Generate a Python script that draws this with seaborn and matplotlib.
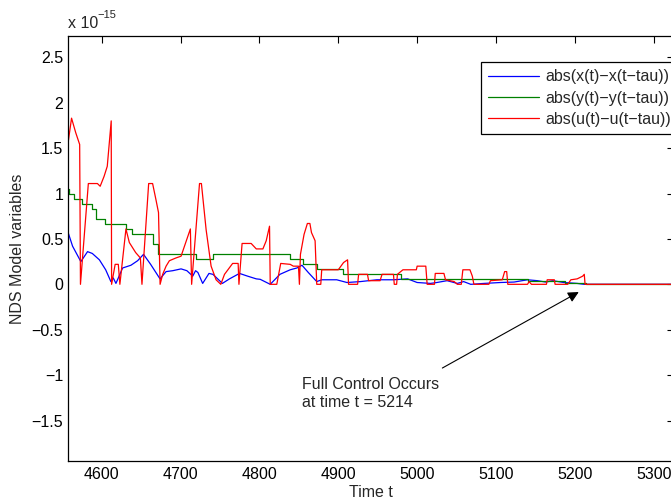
import matplotlib
matplotlib.use('Agg')
import matplotlib.pyplot as plt
import seaborn as sns

# values are in units of 1e-15
red_t = [4557, 4561.7, 4567, 4572, 4573, 4583, 4594.5, 4598, 4603, 4607, 4612, 4612.5,
         4617, 4621, 4623, 4630.7, 4635, 4643, 4649, 4651, 4659.5, 4664.5, 4668.8, 4672,
         4674, 4677.3, 4681.6, 4685.8, 4694, 4700.6, 4712.4, 4714, 4724, 4726.4, 4732.4,
         4738.7, 4745, 4751, 4755.7, 4760, 4766, 4773, 4774, 4778, 4789.5, 4796, 4804.4,
         4808.6, 4812.8, 4813.7, 4822, 4827, 4839, 4843, 4849.5, 4850.7, 4852, 4856.6,
         4860.8, 4864, 4866, 4870.6, 4872.7, 4877.8, 4879, 4900, 4906.7, 4911.8, 4913,
         4924.5, 4925.8, 4937, 4938.5, 4953, 4955.5, 4970, 4971, 4974, 4975, 4982, 4999,
         5000, 5011, 5012.7, 5022, 5023, 5034, 5036, 5047, 5051, 5056, 5058, 5067, 5070,
         5072, 5091, 5093, 5108, 5111, 5113.6, 5115, 5140, 5142, 5145, 5164, 5165, 5174,
         5175, 5191, 5195, 5203, 5210, 5212, 5213, 5214, 5330]
red_v = [1.54, 1.83, 1.67, 1.54, 0, 1.11, 1.11, 1.08, 1.19, 1.30, 1.80, 0,
         0.22, 0.22, 0, 0.61, 0.46, 0.35, 0.29, 0, 1.11, 1.11, 0.93, 0.79,
         0, 0.11, 0.20, 0.26, 0.29, 0.31, 0.61, 0, 1.11, 1.11, 0.60,
         0.20, 0.05, 0, 0.11, 0.16, 0.23, 0.23, 0, 0.45, 0.45, 0.39, 0.39,
         0.48, 0.64, 0, 0, 0.23, 0.22, 0.20, 0.20, 0, 0.33, 0.55,
         0.67, 0.67, 0.57, 0.48, 0, 0, 0.16, 0.16, 0.24, 0.27, 0,
         0, 0.11, 0.11, 0.04, 0.04, 0.11, 0.11, 0, 0, 0.11, 0.16, 0.16,
         0.20, 0.20, 0, 0, 0.12, 0.12, 0.05, 0.03, 0, 0, 0.16, 0.16, 0.09,
         0, 0, 0.04, 0.05, 0.14, 0.14, 0, 0, 0.03, 0, 0, 0.05, 0.05,
         0, 0, 0.05, 0.06, 0.09, 0.11, 0, 0, 0]

blue_t = [4557, 4563, 4573.5, 4582, 4588, 4597, 4605, 4611.6, 4614.6, 4618, 4626.5, 4637,
          4645.5, 4653, 4662, 4673.9, 4681.6, 4690, 4700.6, 4708, 4715.4, 4719, 4722, 4728,
          4736, 4741, 4753, 4762, 4774.7, 4785, 4796, 4801, 4813.7, 4826, 4839, 4847.5,
          4854, 4862, 4872.7, 4879, 4898, 4911, 4928, 4949, 4970, 4988, 5000, 5017, 5025,
          5038, 5051, 5059, 5068, 5085, 5106, 5123, 5140, 5152.5, 5163, 5172, 5186, 5203,
          5212, 5330]
blue_v = [0.58, 0.42, 0.25, 0.36, 0.34, 0.27, 0.16, 0.03, 0.07, 0.01, 0.18, 0.21,
          0.26, 0.33, 0.22, 0.06, 0.14, 0.15, 0.17, 0.15, 0.09, 0.15, 0.13, 0.01,
          0.12, 0.11, 0.01, 0.06, 0.12, 0.09, 0.06, 0.055, 0, 0.11, 0.16, 0.18,
          0.21, 0.13, 0.03, 0.05, 0.05, 0.02, 0.03, 0.05, 0.05, 0.06, 0.02, 0.01, 0.02,
          0.04, 0.01, 0.03, 0, 0.01, 0.02, 0.025, 0.05, 0.04, 0.025, 0.04, 0.02, 0.01,
          0, 0]

# green is a staircase: value holds until the next time
green_t = [4557, 4558.6, 4564.5, 4574.8, 4588, 4593, 4604, 4631, 4638, 4665, 4671, 4720,
           4741, 4839, 4855, 4873, 4906, 4980, 5140, 5188, 5214, 5330]
green_v = [1.05, 1.00, 0.945, 0.886, 0.83, 0.72, 0.667, 0.61, 0.557, 0.447, 0.337, 0.275,
           0.337, 0.275, 0.227, 0.165, 0.11, 0.055, 0.04, 0.01, 0, 0]

labels = ['abs(x(t)\u2212x(t\u2212tau))', 'abs(y(t)\u2212y(t\u2212tau))', 'abs(u(t)\u2212u(t\u2212tau))']

FS = 11.5

sns.set_style('white')
plt.rcParams['font.family'] = ['Liberation Sans', 'DejaVu Sans']
plt.rcParams['font.size'] = FS

fig = plt.figure(figsize=(6.71, 5.03), dpi=100)
ax = fig.add_axes([68 / 671, 42 / 503, 606 / 671, 425 / 503])

sns.lineplot(x=blue_t, y=blue_v, ax=ax, color=(0, 0, 1), lw=0.9, label=labels[0],
             estimator=None, sort=False)
sns.lineplot(x=green_t, y=green_v, ax=ax, color=(0, 0.5, 0), lw=0.9, label=labels[1],
             estimator=None, sort=False, drawstyle='steps-post')
sns.lineplot(x=red_t, y=red_v, ax=ax, color=(1, 0, 0), lw=0.9, label=labels[2],
             estimator=None, sort=False)

ax.set_xlim(4557.2, 5325.8)
ax.set_ylim(-1.946, 2.735)
ax.set_xticks([4600, 4700, 4800, 4900, 5000, 5100, 5200, 5300])
ax.set_yticks([-1.5, -1, -0.5, 0, 0.5, 1, 1.5, 2, 2.5])
ax.set_yticklabels(['\u22121.5', '\u22121', '\u22120.5', '0', '0.5', '1', '1.5', '2', '2.5'])
ax.tick_params(direction='in', length=5, width=0.8, top=True, right=True,
               labelsize=FS, colors='black')
ax.tick_params(axis='x', pad=4)
ax.tick_params(axis='y', pad=3.5)
for s in ax.spines.values():
    s.set_color('black')
    s.set_linewidth(0.9)

ax.set_xlabel('Time t', fontsize=FS)
ax.set_ylabel('NDS Model variables', fontsize=FS)
ax.xaxis.set_label_coords(0.5, -0.056)
ax.yaxis.set_label_coords(-0.071, 0.5)

# exponent label like MATLAB
fig.text(68 / 671, 1 - 28 / 503, 'x 10', fontsize=FS)
fig.text(97 / 671, 1 - 18 / 503, '\u221215', fontsize=8)

# annotation
ax.annotate('', xy=(5205, -0.085), xytext=(5032, -0.922),
            arrowprops=dict(arrowstyle='-|>', color='black', lw=0.8,
                            mutation_scale=16, shrinkA=0, shrinkB=0))
ax.text(4854, -1.203, 'Full Control Occurs\nat time t = 5214', fontsize=FS,
        ha='left', va='center', linespacing=1.25)

leg = ax.legend(loc='upper left', bbox_to_anchor=(481 / 671, 1 - 62 / 503),
                bbox_transform=fig.transFigure, borderaxespad=0, fancybox=False,
                framealpha=1, edgecolor='black', handlelength=3.2, handletextpad=0.4,
                borderpad=0.45, labelspacing=0.4, fontsize=FS)
leg.get_frame().set_linewidth(0.9)

fig.savefig('out.png', dpi=100)
